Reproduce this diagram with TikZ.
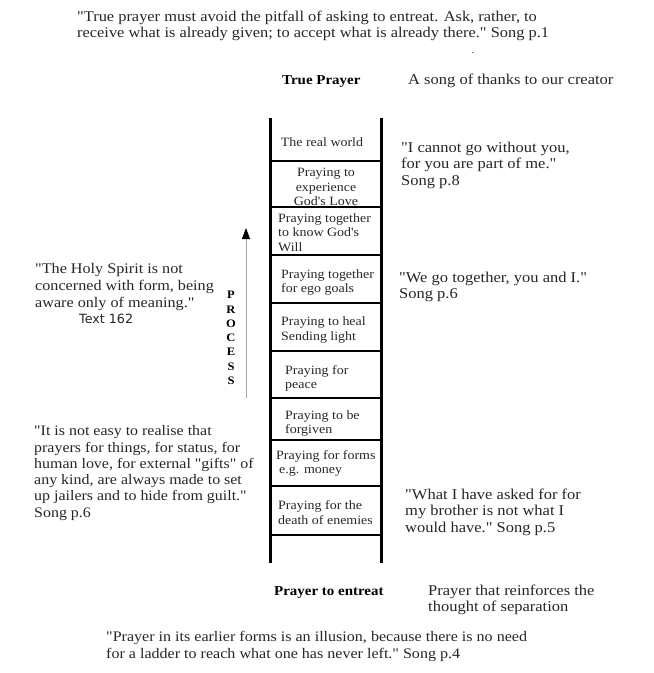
\documentclass[tikz,border=0pt]{standalone}
\usepackage{fontspec}
\setmainfont{Liberation Serif}[Ligatures=TeXOff, FakeStretch=1.1]
\newfontfamily\labelsans{DejaVu Sans}
\usetikzlibrary{arrows.meta}
\definecolor{txt}{HTML}{262626}
\begin{document}
\begin{tikzpicture}[x=1pt,y=-1pt,
  quote/.style={anchor=north west, inner sep=0pt, align=left, text=txt,
    font=\fontsize{15}{16.5}\selectfont},
  rungtext/.style={inner sep=0pt, text=txt, font=\fontsize{12.7}{14.6}\selectfont},
  heading/.style={inner sep=0pt, text=black, font=\fontsize{13.6}{16}\selectfont\bfseries},
  rail/.style={line width=3pt, black},
  rungline/.style={line width=2.6pt, black},
  procletters/.style={inner sep=0pt, align=center, text=black,
    font=\fontsize{11.4}{14.3}\selectfont\bfseries}]
\useasboundingbox (0,0) rectangle (654,673);

% top quote
\node[quote, font=\fontsize{14.9}{16}\selectfont] (topq) at (77,11) {"True prayer must avoid the pitfall of asking to entreat. Ask, rather, to\\
receive what is already given; to accept what is already there." Song p.1};
\node[inner sep=0pt, text=txt, font=\fontsize{10}{12}\selectfont] (dot) at (473,53) {.};

% headings
\node[heading, anchor=west] (truep) at (282,82) {True Prayer};
\node[quote, anchor=west, font=\fontsize{15}{16}\selectfont] (songt) at (408,81) {A song of thanks to our creator};

% ladder
\coordinate (lt) at (270,118); \coordinate (lb) at (270,563);
\coordinate (rt) at (381,118); \coordinate (rb) at (381,563);
\draw[rail] (lt) -- (lb);
\draw[rail] (rt) -- (rb);
\foreach \i/\yy in {1/161,2/207,3/255,4/303,5/351,6/398,7/440,8/486,9/535}{
  \coordinate (rl\i) at (270,\yy);
  \coordinate (rr\i) at (383,\yy);
  \draw[rungline] (rl\i) -- (rr\i);
}

% rung texts
\node[rungtext] (t1) at (322,142) {The real world};
\node[rungtext, align=center] (t2) at (326,187) {Praying to\\experience\\God's Love};
\node[rungtext, align=left, anchor=west] (t3) at (278,232.5) {Praying together\\to know God's\\Will};
\node[rungtext, align=left, anchor=west] (t4) at (281,282.5) {Praying together\\for ego goals};
\node[rungtext, align=left, anchor=west] (t5) at (281,330) {Praying to heal\\Sending light};
\node[rungtext, align=left, anchor=west] (t6) at (285,378.5) {Praying for\\peace};
\node[rungtext, align=left, anchor=west] (t7) at (285,423.5) {Praying to be\\forgiven};
\node[rungtext, align=left, anchor=west] (t8) at (276,463.5) {Praying for forms\\\hspace*{3pt}e.g. money};
\node[rungtext, align=left, anchor=west] (t9) at (278,512.5) {Praying for the\\death of enemies};

% process arrow
\coordinate (ab) at (246,398);
\coordinate (at) at (246,228);
\draw[gray!70, line width=0.8pt, -{Triangle[black, length=11pt, width=8pt]}] (ab) -- (at);
\node[procletters] (proc) at (231,338) {P\\R\\O\\C\\E\\S\\S};

% left quotes
\node[quote, font=\fontsize{14.7}{17}\selectfont] (holy) at (35,263.5) {"The Holy Spirit is not\\concerned with form, being\\aware only of meaning."};
\node[inner sep=0pt, text=txt, font=\labelsans\fontsize{12.7}{14}\selectfont, anchor=west] (text162) at (79,319) {Text 162};
\node[quote, font=\fontsize{14.5}{16.3}\selectfont] (easy) at (34,425.5) {"It is not easy to realise that\\prayers for things, for status, for\\human love, for external "gifts" of\\any kind, are always made to set\\up jailers and to hide from guilt."\\Song p.6};

% right quotes
\node[quote] (cannot) at (401,141.5) {"I cannot go without you,\\for you are part of me."\\Song p.8};
\node[quote, font=\fontsize{15}{16}\selectfont] (wego) at (399,272) {"We go together, you and I."\\Song p.6};
\node[quote] (what) at (405,488.5) {"What I have asked for for\\my brother is not what I\\would have." Song p.5};

% bottom
\node[heading, anchor=west] (entreat) at (274,593) {Prayer to entreat};
\node[quote, font=\fontsize{15}{16}\selectfont] (reinf) at (428,584.5) {Prayer that reinforces the\\thought of separation};
\node[quote, font=\fontsize{14.6}{17}\selectfont] (botq) at (106,631) {"Prayer in its earlier forms is an illusion, because there is no need\\for a ladder to reach what one has never left." Song p.4};
\end{tikzpicture}
\end{document}
